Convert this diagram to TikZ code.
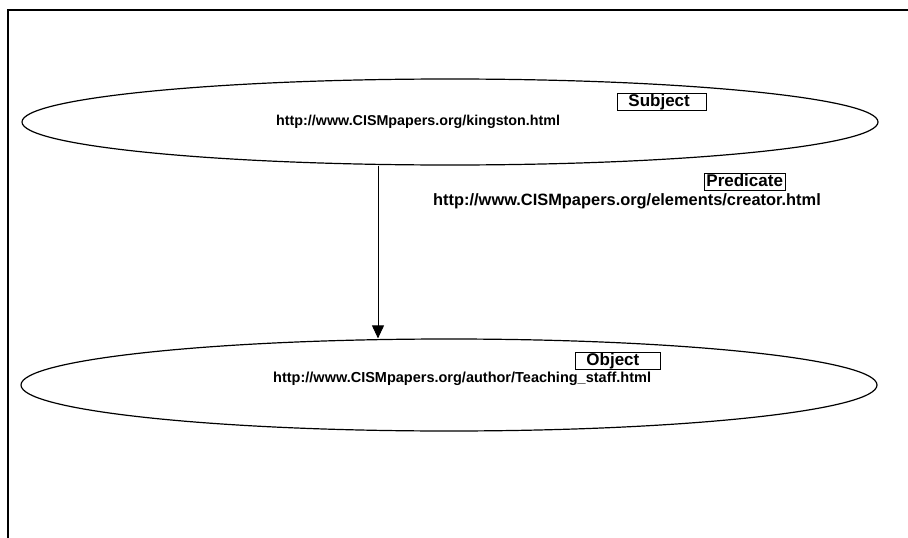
\documentclass[tikz,border=0pt]{standalone}
\usepackage{fontspec}
\setmainfont{Liberation Sans}
\usetikzlibrary{shapes.geometric,arrows.meta,positioning}

\begin{document}
\begin{tikzpicture}[x=1pt,y=-1pt,
  res/.style={draw, ellipse, line width=1.2pt, minimum width=856pt, minimum height=86pt, inner sep=0pt},
  uri/.style={font=\bfseries\fontsize{14.3}{17}\selectfont, inner sep=0pt, anchor=west},
  tag/.style={draw, line width=0.9pt, font=\bfseries\fontsize{17}{19}\selectfont, inner xsep=2pt, inner ysep=1pt,
    text height=12pt, text depth=2.5pt, anchor=west, align=left}]
\useasboundingbox (0,0) rectangle (908,538);
\draw[line width=1.3pt] (8,538) -- (8,10) -- (908,10);
\node[res] (subj) at (450,122) {};
\node[uri] (subjuri) at (276,122) {http://www.CISMpapers.org/kingston.html};
\node[tag, text width=85pt] (subjtag) at (617,102) {\hspace*{9pt}Subject};
\node[tag] (predtag) at (704,182) {Predicate};
\node[uri, font=\bfseries\fontsize{16.4}{18}\selectfont] (preduri) at (433,201) {http://www.CISMpapers.org/elements/creator.html};
\node[res, minimum height=92pt] (obj) at (449,385) {};
\node[tag, text width=81pt] (objtag) at (575,361) {\hspace*{9pt}Object};
\node[uri, font=\bfseries\fontsize{14.5}{17}\selectfont] (objuri) at (273,379) {http://www.CISMpapers.org/author/Teaching\_staff.html};
\coordinate (stem) at (378,0);
\draw[line width=0.9pt, -{Triangle[width=12pt,length=13pt]}] (subj.south -| stem) -- (obj.north -| stem);
\end{tikzpicture}
\end{document}
